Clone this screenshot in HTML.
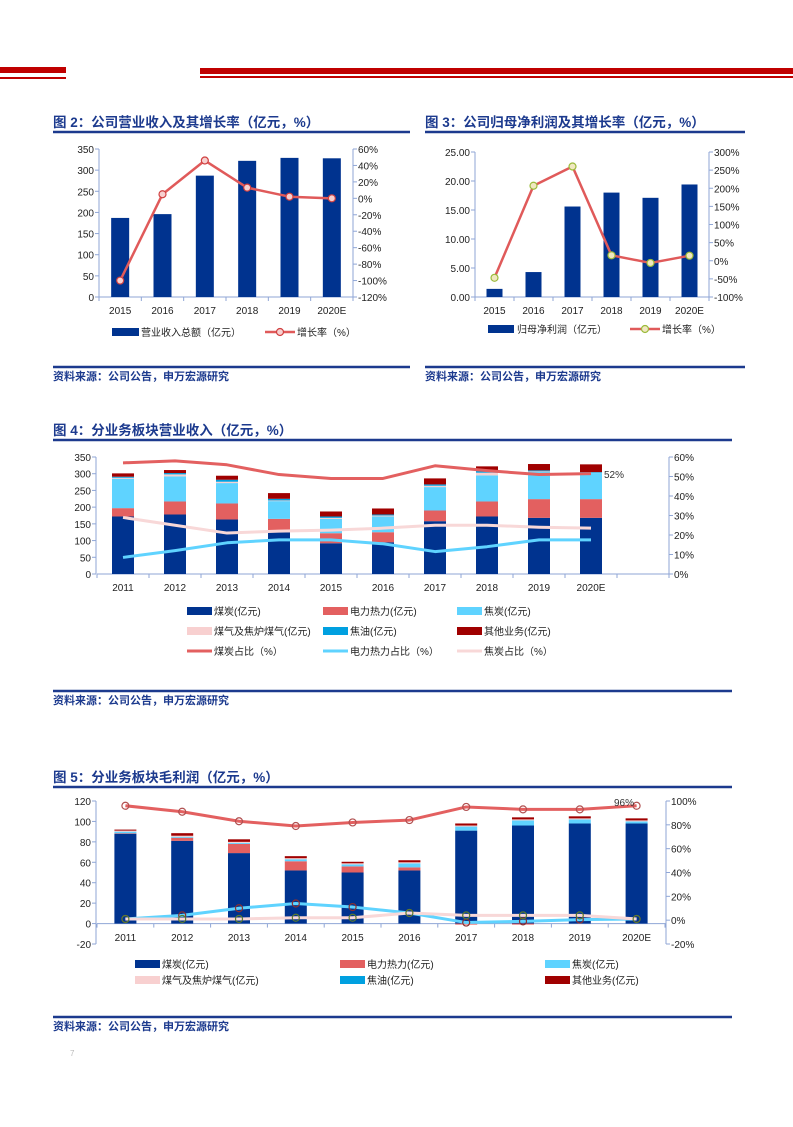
<!DOCTYPE html><html><head><meta charset="utf-8"><style>
body{margin:0;background:#fff;width:793px;height:1122px;overflow:hidden}
svg text{font-family:"Liberation Sans","Noto Sans CJK SC",sans-serif}
</style></head><body>
<svg id="s" width="793" height="1122" xmlns="http://www.w3.org/2000/svg">
<rect x="0" y="67" width="66" height="6" fill="#c00000"/><rect x="0" y="77" width="66" height="2" fill="#c00000"/>
<rect x="200" y="68" width="593" height="6" fill="#c00000"/><rect x="200" y="76" width="593" height="2" fill="#c00000"/>
</svg>
<script>
const S=document.getElementById('s');let h='';
const N='#1c3a8e',AX='#8fa6d6',BAR='#00338f';
function t(x,y,s,o={}){h+=`<text x="${x}" y="${y}" font-size="${o.fs||10}" fill="${o.c||'#222'}" text-anchor="${o.a||'start'}" font-weight="${o.w||'normal'}">${s}</text>`}
function l(x1,y1,x2,y2,c,w){h+=`<line x1="${x1}" y1="${y1}" x2="${x2}" y2="${y2}" stroke="${c}" stroke-width="${w||1}"/>`}
function r(x,y,w,hh,c){if(hh<0){y+=hh;hh=-hh}h+=`<rect x="${x}" y="${y}" width="${w}" height="${hh}" fill="${c}"/>`}
function pl(pts,c,w){h+=`<polyline points="${pts.map(p=>p.join(',')).join(' ')}" fill="none" stroke="${c}" stroke-width="${w}" stroke-linejoin="round"/>`}
function ci(x,y,c,f){h+=`<circle cx="${x}" cy="${y}" r="3.5" fill="${f||'none'}" stroke="${c}" stroke-width="1.2"/>`}
function title(x,y,x2,s){t(x,y,s,{fs:13.5,c:N,w:'bold'});l(x,y+5,x2,y+5,N,2.5)}
function src(x,y,x2){l(x,y-13,x2,y-13,N,2.5);t(x,y,'资料来源：公司公告，申万宏源研究',{fs:11,c:N,w:'bold'})}
function axes(L,R,T,B,lt,rt,cats,x0,cw,xLabY,extraTicks){
 l(L,T,L,B,AX);l(R,T,R,B,AX);
 lt.forEach(([v,y])=>{l(L-4,y,L,y,AX);t(L-5,y+4,v,{a:'end'})});
 rt.forEach(([v,y])=>{l(R,y,R+4,y,AX);t(R+5,y+4,v)});
 const n=cats.length+(extraTicks||0);
 for(let i=0;i<=n;i++)l(x0+i*cw,xLabY.axis,x0+i*cw,xLabY.axis+4,AX);
 l(x0,xLabY.axis,R,xLabY.axis,AX);
 cats.forEach((c,i)=>t(x0+cw*(i+.5),xLabY.y,c,{a:'middle'}));
}
title(53,127,410,'图 2：公司营业收入及其增长率（亿元，%）');
{const L=99,R=353,T=149,B=297,cw=(R-L)/6,yl=v=>B-(v/350)*(B-T),yr=v=>B-((v+120)/180)*(B-T);
const cats=['2015','2016','2017','2018','2019','2020E'];
axes(L,R,T,B,[0,50,100,150,200,250,300,350].map(v=>[v,yl(v)]),[-120,-100,-80,-60,-40,-20,0,20,40,60].map(v=>[v+'%',yr(v)]),cats,L,cw,{axis:B,y:314});
const bv=[187,196,287,322,329,328],g=[-100,5,46,13,2,0];
bv.forEach((v,i)=>r(L+cw*(i+.5)-9,yl(v),18,B-yl(v),BAR));
const p=g.map((v,i)=>[L+cw*(i+.5),yr(v)]);pl(p,'#e05a5a',2.5);p.forEach(q=>ci(q[0],q[1],'#d04040','#f7d0d0'));
r(112,328,27,8,BAR);t(141,336,'营业收入总额（亿元）');l(265,332,295,332,'#e05a5a',2.5);ci(280,332,'#d04040','#f7d0d0');t(297,336,'增长率（%）');}
src(53,380,410);
title(425,127,745,'图 3：公司归母净利润及其增长率（亿元，%）');
{const L=475,R=709,T=152,B=297,cw=(R-L)/6,yl=v=>B-(v/25)*(B-T),yr=v=>B-((v+100)/400)*(B-T);
const cats=['2015','2016','2017','2018','2019','2020E'];
axes(L,R,T,B,[0,5,10,15,20,25].map(v=>[v.toFixed(2),yl(v)]),[-100,-50,0,50,100,150,200,250,300].map(v=>[v+'%',yr(v)]),cats,L,cw,{axis:B,y:314});
const bv=[1.4,4.3,15.6,18,17.1,19.4],g=[-47,207,260,15,-6,14];
bv.forEach((v,i)=>r(L+cw*(i+.5)-8,yl(v),16,B-yl(v),BAR));
const p=g.map((v,i)=>[L+cw*(i+.5),yr(v)]);pl(p,'#e05a5a',2.5);p.forEach(q=>ci(q[0],q[1],'#9bbb3b','#f0e8c0'));
r(488,325,26,8,BAR);t(517,333,'归母净利润（亿元）');l(630,329,660,329,'#e05a5a',2.5);ci(645,329,'#9bbb3b','#f0e8c0');t(662,333,'增长率（%）');}
src(425,380,745);
const SC=['#00338f','#e36060','#5fd3ff','#f8d0d0','#00a0e0','#a00000'];
title(53,435,732,'图 4：分业务板块营业收入（亿元，%）');
{const L=96,R=669,T=457,B=574,cw=52,x0=97,yl=v=>B-(v/350)*(B-T),yr=v=>B-(v/60)*(B-T);
const cats=['2011','2012','2013','2014','2015','2016','2017','2018','2019','2020E'];
axes(L,R,T,B,[0,50,100,150,200,250,300,350].map(v=>[v,yl(v)]),[0,10,20,30,40,50,60].map(v=>[v+'%',yr(v)]),cats,x0,cw,{axis:B,y:591},1);
const d=[[172,197,285,288,291,301],[178,217,292,298,302,311],[163,211,272,276,282,294],[125,165,218,220,225,242],[92,122,165,168,172,187],[95,125,172,175,178,196],[158,190,260,264,268,286],[172,217,295,303,308,322],[168,224,305,307,310,329],[168,224,302,303,305,328]];
d.forEach((a,i)=>{let prev=0;a.forEach((v,k)=>{r(x0+cw*(i+.5)-11,yl(v),22,yl(prev)-yl(v),SC[k]);prev=v})});
const lines=[[[57,58,56,51,49,49,55.5,53,51,51.5],'#e36060'],[[8.5,12,16,17.5,17.5,15.5,11.5,14,17.5,17.5],'#5fd3ff'],[[29,25,21,22,22.5,23.5,25,25,24,23.5],'#f8d8d8']];
lines.forEach(([v,c])=>pl(v.map((y,i)=>[x0+cw*(i+.5),yr(y)]),c,3));
t(604,478,'52%',{c:'#333'});
const lg=[['煤炭(亿元)','r',SC[0]],['电力热力(亿元)','r',SC[1]],['焦炭(亿元)','r',SC[2]],['煤气及焦炉煤气(亿元)','r',SC[3]],['焦油(亿元)','r',SC[4]],['其他业务(亿元)','r',SC[5]],['煤炭占比（%）','l','#e36060'],['电力热力占比（%）','l','#5fd3ff'],['焦炭占比（%）','l','#f8d8d8']];
lg.forEach(([s,k,c],i)=>{const x=[187,323,457][i%3],y=611+20*Math.floor(i/3);if(k=='r')r(x,y-4,25,8,c);else l(x,y,x+25,y,c,3);t(x+27,y+4,s)});}
src(53,704,732);
title(53,782,732,'图 5：分业务板块毛利润（亿元，%）');
{const L=96,R=666,T=801,B=944,x0=97,cw=56.8,yl=v=>B-((v+20)/140)*(B-T),yr=v=>B-((v+20)/120)*(B-T);
const cats=['2011','2012','2013','2014','2015','2016','2017','2018','2019','2020E'];
axes(L,R,T,B,[-20,0,20,40,60,80,100,120].map(v=>[v,yl(v)]),[-20,0,20,40,60,80,100].map(v=>[v+'%',yr(v)]),cats,x0,cw,{axis:yl(0),y:941});
const d=[[88,88.5,90,91,91,92],[81,84,85,86,86,88.5],[69,78,79,80,80,82.5],[52,61,63,64,64,66],[50,56,58,59,59,60.5],[52,55,59,60,60,62],[91,91,95,96,96,98],[96,96,101,102,102,104],[98,98,102,103,103,105],[98,98,100,101,101,103]];
d.forEach((a,i)=>{let prev=0;a.forEach((v,k)=>{r(x0+cw*(i+.5)-11,yl(v),22,yl(prev)-yl(v),SC[k]);prev=v})});
[6,7].forEach(i=>r(x0+cw*(i+.5)-11,yl(0),22,yl(-1)-yl(0),SC[1]));
const lines=[[[96,91,83,79,82,84,95,93,93,96],'#e36060','#b05050'],[[1,4,10,14,11,6,-2,-1,0.5,1],'#5fd3ff','#8a3030'],[[1,1,1,2,2,6,4,4,4,1],'#f8d8d8','#5a7a30']];
lines.forEach(([v,c,m])=>{const p=v.map((y,i)=>[x0+cw*(i+.5),yr(y)]);pl(p,c,3);p.forEach(q=>ci(q[0],q[1],m))});
t(614,806,'96%',{c:'#333'});
const lg=['煤炭(亿元)','电力热力(亿元)','焦炭(亿元)','煤气及焦炉煤气(亿元)','焦油(亿元)','其他业务(亿元)'];
lg.forEach((s,i)=>{const x=[135,340,545][i%3],y=964+16*Math.floor(i/3);r(x,y-4,25,8,SC[i]);t(x+27,y+4,s)});}
src(53,1030,732);
t(70,1056,'7',{fs:8,c:'#bbb'});
S.insertAdjacentHTML('beforeend',h);
</script>
</body></html>
